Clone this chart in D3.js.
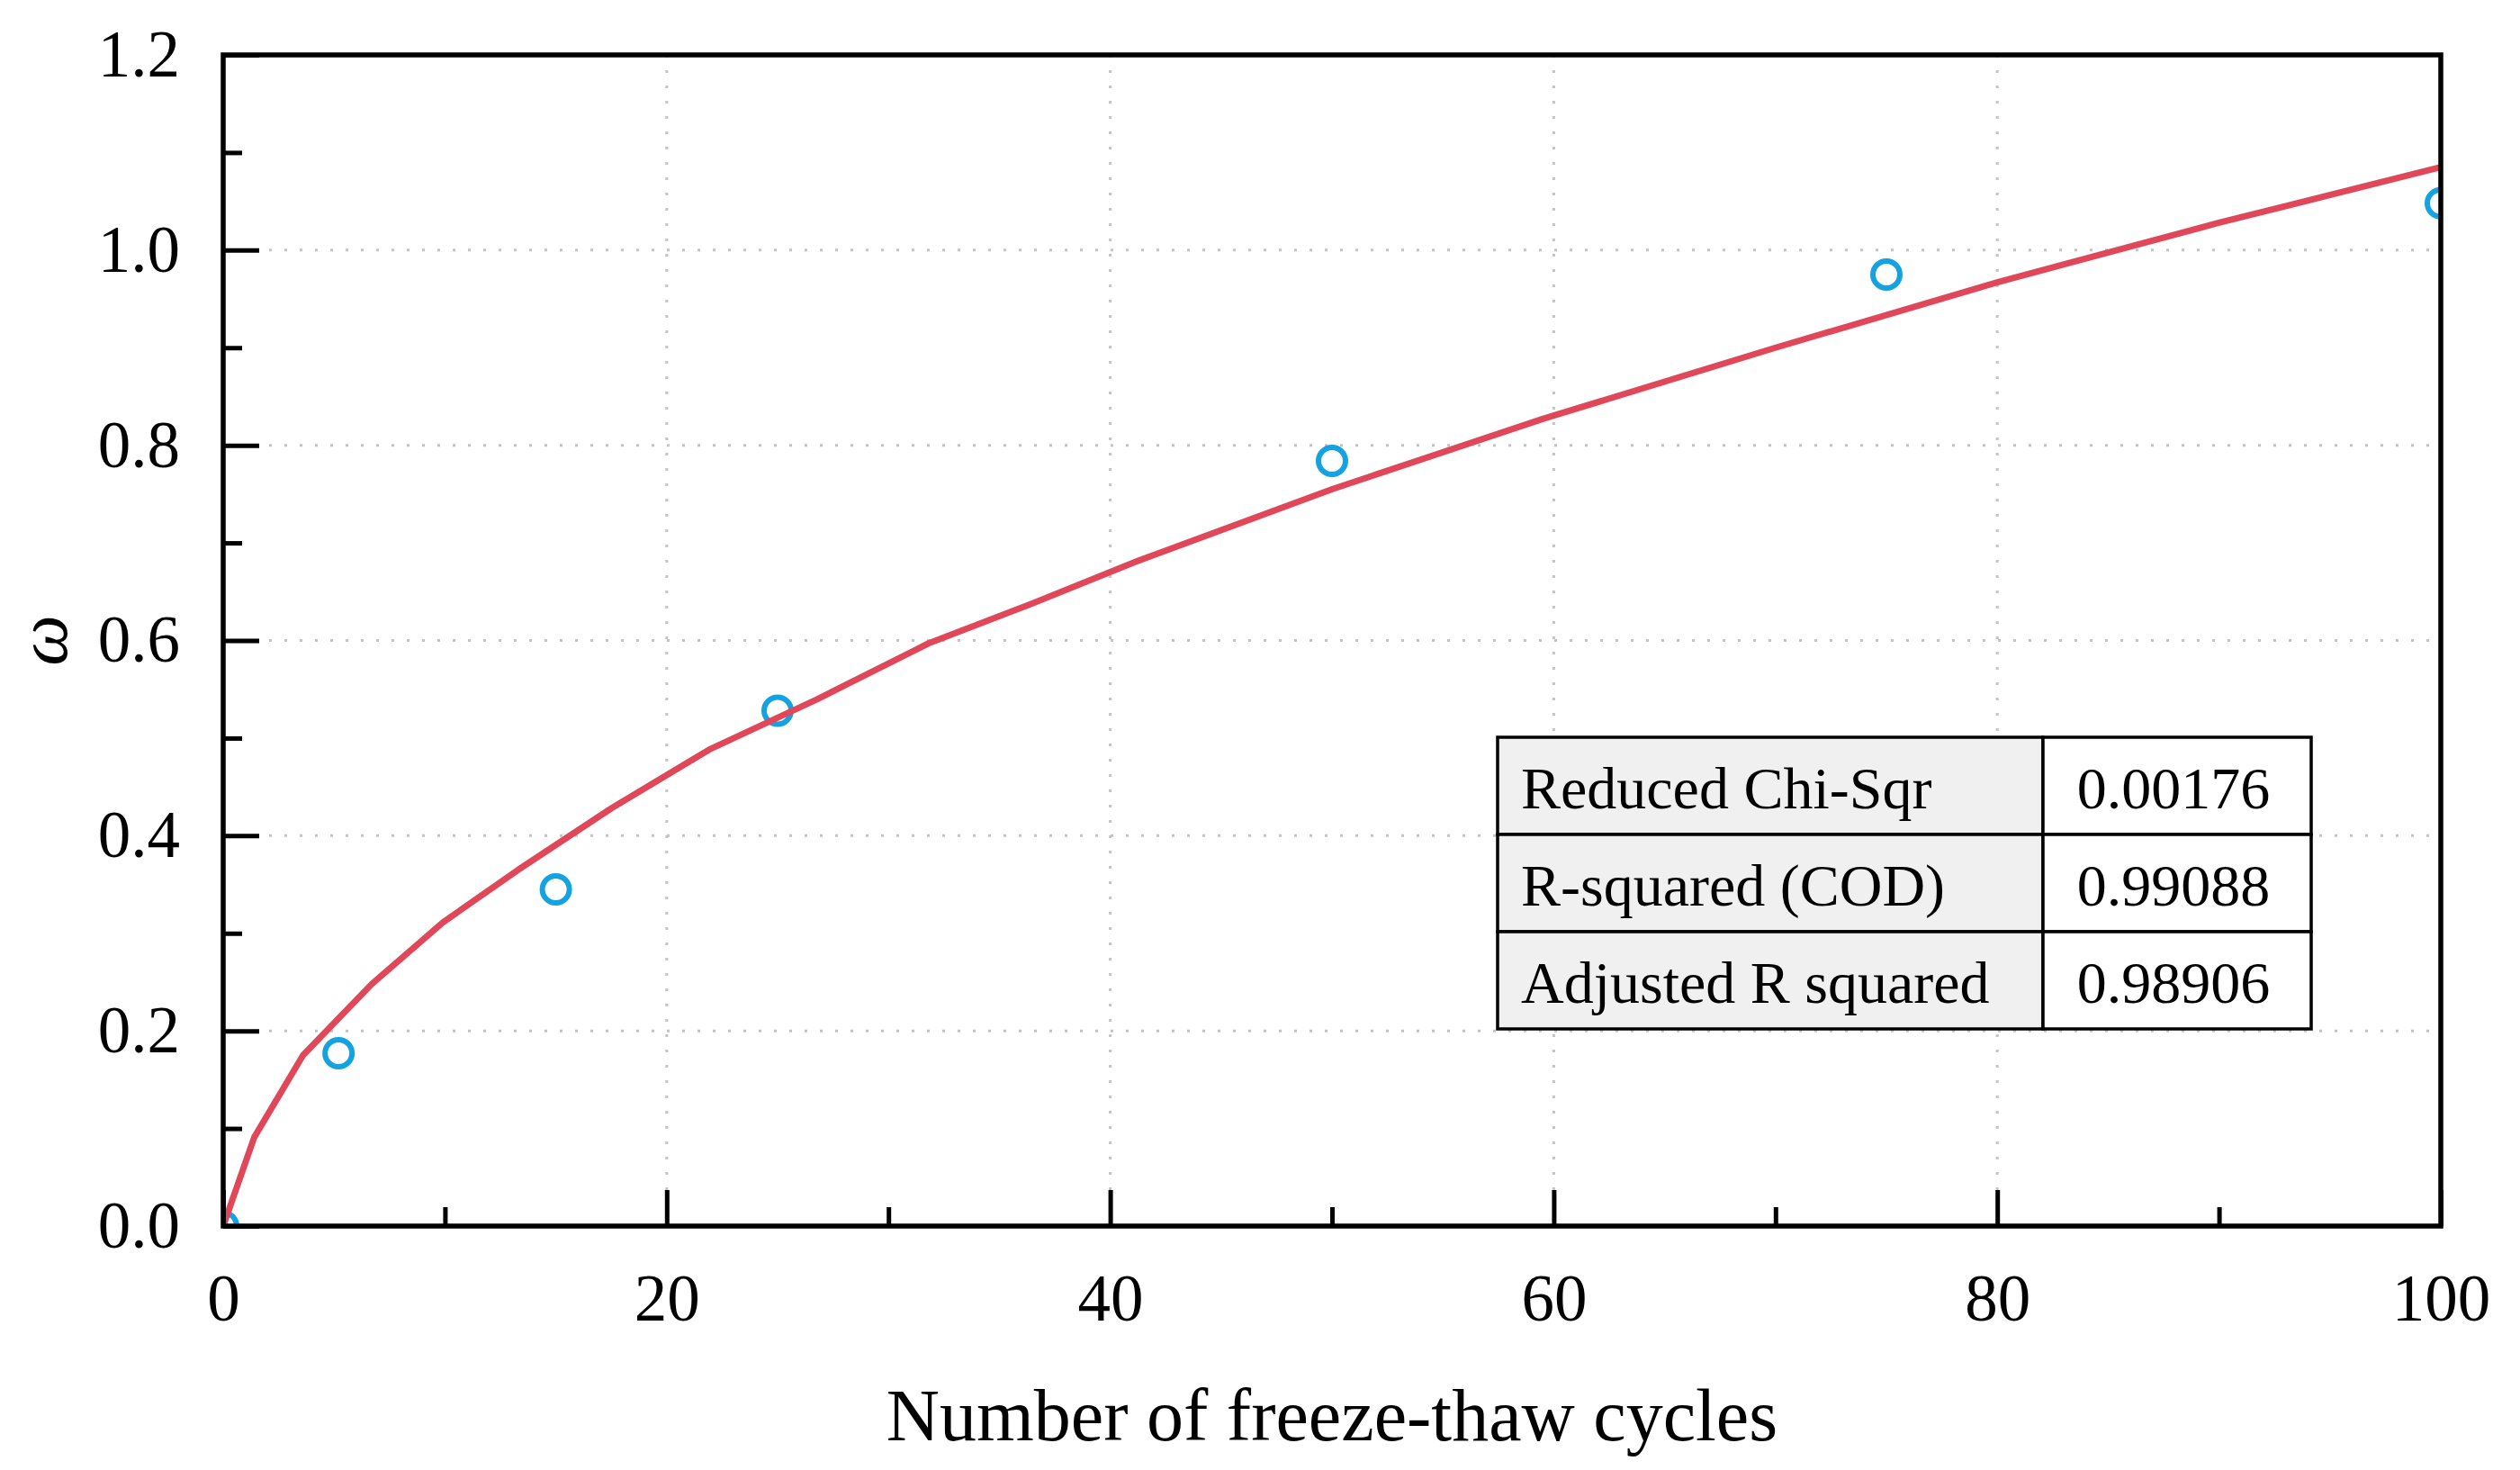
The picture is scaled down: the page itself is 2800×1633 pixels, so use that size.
<!DOCTYPE html>
<html>
<head>
<meta charset="utf-8">
<script src="https://cdn.jsdelivr.net/npm/d3@7"></script>
<style>
body { margin: 0; background: #fff; }
text { font-family: "Liberation Serif", "Times New Roman", serif; fill: #000; }
</style>
</head>
<body>
<div id="chart"></div>
<script>
// measured points
const cycles = [0, 5.2, 15, 25, 50, 75, 100];
const omega = [0, 0.177, 0.345, 0.528, 0.784, 0.975, 1.048];

// fitted curve
const fitCycles = [0, 1.4, 3.6, 6.7, 9.9, 13.3, 17.5, 21.9, 26.8, 31.8, 36.5, 41.3, 50, 59.5, 70, 80, 90, 100];
const fitOmega = [0, 0.091, 0.175, 0.248, 0.311, 0.365, 0.428, 0.488, 0.54, 0.597, 0.638, 0.682, 0.755, 0.827, 0.9, 0.967, 1.028, 1.085];

const xTickValues = [0, 20, 40, 60, 80, 100];
const xMinorValues = [10, 30, 50, 70, 90];
const yTickValues = [0, 0.2, 0.4, 0.6, 0.8, 1.0, 1.2];
const yMinorValues = [0.1, 0.3, 0.5, 0.7, 0.9, 1.1];

const statNames = ["Reduced Chi-Sqr", "R-squared (COD)", "Adjusted R squared"];
const statValues = ["0.00176", "0.99088", "0.98906"];

const width = 2800, height = 1633;
const plotLeft = 248, plotRight = 2712, plotTop = 61, plotBottom = 1362;

const svg = d3.select("#chart").append("svg")
    .attr("width", width)
    .attr("height", height)
    .style("display", "block");

const x = d3.scaleLinear().domain([0, 100]).range([plotLeft, plotRight]);
const y = d3.scaleLinear().domain([0, 1.2]).range([plotBottom, plotTop]);

svg.append("defs").append("clipPath")
    .attr("id", "plotClip")
    .append("rect")
    .attr("x", plotLeft)
    .attr("y", plotTop)
    .attr("width", plotRight - plotLeft)
    .attr("height", plotBottom - plotTop);

// dotted grid
const grid = svg.append("g").attr("class", "grid");
grid.selectAll(".vgrid")
    .data(xTickValues.slice(1, -1))
    .enter().append("line")
    .attr("class", "vgrid")
    .attr("x1", d => x(d)).attr("x2", d => x(d))
    .attr("y1", plotTop).attr("y2", plotBottom);
grid.selectAll(".hgrid")
    .data(yTickValues.slice(1, -1))
    .enter().append("line")
    .attr("class", "hgrid")
    .attr("x1", plotLeft).attr("x2", plotRight)
    .attr("y1", d => y(d)).attr("y2", d => y(d));
grid.selectAll("line")
    .attr("stroke", "#c4c4c4")
    .attr("stroke-width", 3)
    .attr("stroke-dasharray", "3,14");

const plot = svg.append("g").attr("clip-path", "url(#plotClip)");

plot.selectAll(".obs")
    .data(cycles)
    .enter().append("circle")
    .attr("class", "obs")
    .attr("cx", d => x(d))
    .attr("cy", (d, i) => y(omega[i]))
    .attr("r", 15)
    .attr("fill", "none")
    .attr("stroke", "#14a2e0")
    .attr("stroke-width", 6);

const line = d3.line()
    .x(d => x(d))
    .y((d, i) => y(fitOmega[i]));

plot.append("path")
    .datum(fitCycles)
    .attr("d", line)
    .attr("fill", "none")
    .attr("stroke", "#e0485a")
    .attr("stroke-width", 7)
    .attr("stroke-linejoin", "round");

// statistics table
const tableLeft = 1664, tableTop = 819, rowH = 108, col1 = 606, col2 = 298;
const table = svg.append("g").attr("class", "table");
const rows = table.selectAll("g")
    .data(statNames)
    .enter().append("g")
    .attr("transform", (d, i) => "translate(" + tableLeft + "," + (tableTop + i * rowH) + ")");

rows.append("rect")
    .attr("width", col1).attr("height", rowH)
    .attr("fill", "#f0f0f0")
    .attr("stroke", "#000").attr("stroke-width", 3.5);
rows.append("rect")
    .attr("x", col1)
    .attr("width", col2).attr("height", rowH)
    .attr("fill", "#fff")
    .attr("stroke", "#000").attr("stroke-width", 3.5);
rows.append("text")
    .attr("x", 26).attr("y", 79)
    .attr("font-size", 66)
    .text(d => d);
rows.append("text")
    .attr("x", col1 + col2 / 2 - 4).attr("y", 79)
    .attr("font-size", 66)
    .attr("text-anchor", "middle")
    .text((d, i) => statValues[i]);

// axes
function styleAxis(g) {
    g.select(".domain").remove();
    g.selectAll(".tick line").attr("stroke", "#000").attr("stroke-width", 5);
    g.selectAll(".tick text").attr("font-size", 73).attr("fill", "#000")
        .attr("font-family", "Liberation Serif, Times New Roman, serif");
}

svg.append("g")
    .attr("transform", "translate(0," + plotBottom + ")")
    .call(d3.axisBottom(x).tickValues(xTickValues).tickSize(-40).tickPadding(53).tickFormat(d3.format("d")))
    .call(styleAxis);
svg.append("g")
    .attr("transform", "translate(0," + plotBottom + ")")
    .call(d3.axisBottom(x).tickValues(xMinorValues).tickSize(-21).tickFormat(""))
    .call(styleAxis);
svg.append("g")
    .attr("transform", "translate(" + plotLeft + ",0)")
    .call(d3.axisLeft(y).tickValues(yTickValues).tickSize(-40).tickPadding(48).tickFormat(d3.format(".1f")))
    .call(styleAxis);
svg.append("g")
    .attr("transform", "translate(" + plotLeft + ",0)")
    .call(d3.axisLeft(y).tickValues(yMinorValues).tickSize(-21).tickFormat(""))
    .call(styleAxis);

svg.append("rect")
    .attr("x", plotLeft).attr("y", plotTop)
    .attr("width", plotRight - plotLeft).attr("height", plotBottom - plotTop)
    .attr("fill", "none")
    .attr("stroke", "#000")
    .attr("stroke-width", 5.5);

// axis titles
svg.append("text")
    .attr("x", (plotLeft + plotRight) / 2)
    .attr("y", 1600)
    .attr("text-anchor", "middle")
    .attr("font-size", 82)
    .text("Number of freeze-thaw cycles");

svg.append("text")
    .attr("transform", "translate(74," + y(0.6) + ") rotate(-90)")
    .attr("text-anchor", "middle")
    .attr("font-size", 80)
    .attr("font-style", "italic")
    .text("ω");
</script>
</body>
</html>
